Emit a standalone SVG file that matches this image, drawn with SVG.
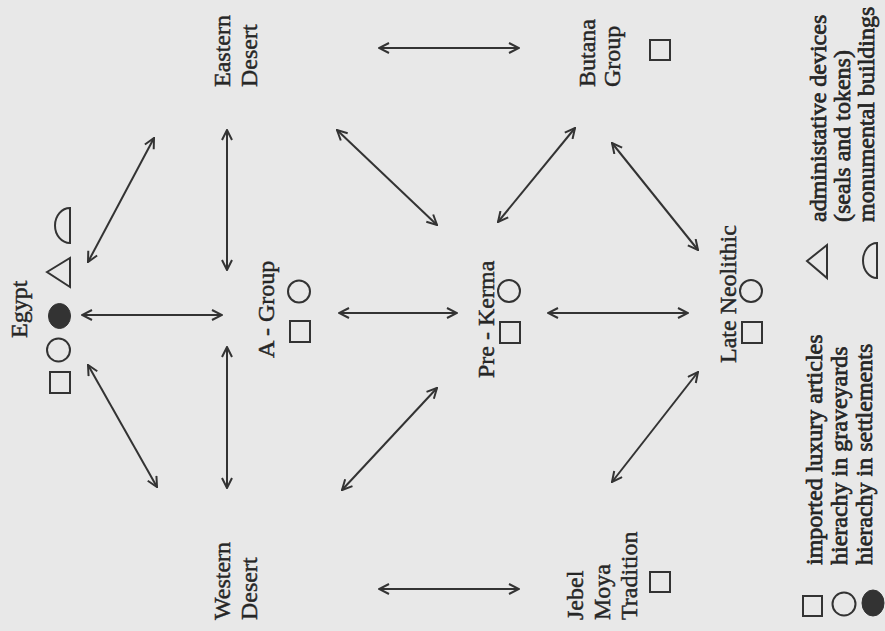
<svg xmlns="http://www.w3.org/2000/svg" width="885" height="631" viewBox="0 0 885 631">
<style>
text{font-family:"Liberation Serif","Times New Roman",serif;font-size:24px;fill:#262626;stroke:#262626;stroke-width:0.45}
.leg text,text.leg{stroke-width:0.7}
.sym{fill:none;stroke:#333;stroke-width:2}
.fill{fill:#333;stroke:#333;stroke-width:1}
.con{fill:none;stroke:#333;stroke-width:2;marker-start:url(#ah);marker-end:url(#ah)}
</style>
<defs>
<marker id="ah" viewBox="0 0 12 12" refX="11" refY="6" markerWidth="12" markerHeight="12" markerUnits="userSpaceOnUse" orient="auto-start-reverse">
<path d="M1,1 L11,6 L1,11" fill="none" stroke="#333" stroke-width="2"/>
</marker>
</defs>
<rect width="885" height="631" fill="#e8e8e8"/>

<g id="connectors">
<line class="con" x1="88" y1="262" x2="154" y2="138"/>
<line class="con" x1="227" y1="130" x2="227" y2="270"/>
<line class="con" x1="82" y1="315" x2="222" y2="315"/>
<line class="con" x1="88" y1="365" x2="157" y2="487"/>
<line class="con" x1="227" y1="347" x2="227" y2="488"/>
<line class="con" x1="379" y1="48" x2="519" y2="48"/>
<line class="con" x1="337" y1="130" x2="437" y2="225"/>
<line class="con" x1="575" y1="128" x2="498" y2="222"/>
<line class="con" x1="339" y1="313" x2="457" y2="313"/>
<line class="con" x1="548" y1="313" x2="688" y2="313"/>
<line class="con" x1="437" y1="388" x2="342" y2="490"/>
<line class="con" x1="379" y1="589" x2="519" y2="589"/>
<line class="con" x1="612" y1="143" x2="698" y2="250"/>
<line class="con" x1="698" y1="372" x2="612" y2="482"/>
</g>

<g id="egypt">
<text transform="translate(27,338) rotate(-90)">Egypt</text>
<rect class="sym" x="50" y="372" width="20" height="21"/>
<circle class="sym" cx="58.5" cy="350" r="11.5"/>
<ellipse class="fill" cx="59.5" cy="316" rx="11" ry="12.5"/>
<polygon class="sym" points="47,272 70,258 70,287"/>
<path class="sym" d="M70,208 A15 17.5 0 0 0 70,243 Z"/>
</g>

<g id="eastern-desert">
<text transform="translate(230,87) rotate(-90)"><tspan x="0" y="0">Eastern</tspan><tspan x="0" y="27">Desert</tspan></text>
</g>

<g id="western-desert">
<text transform="translate(230,620) rotate(-90)"><tspan x="0" y="0">Western</tspan><tspan x="0" y="27">Desert</tspan></text>
</g>

<g id="a-group">
<text transform="translate(274,358) rotate(-90)">A - Group</text>
<circle class="sym" cx="299" cy="291.5" r="11"/>
<rect class="sym" x="290" y="321" width="20" height="21"/>
</g>

<g id="butana-group">
<text transform="translate(595,87) rotate(-90)"><tspan x="0" y="0">Butana</tspan><tspan x="0" y="25">Group</tspan></text>
<rect class="sym" x="650" y="40" width="20" height="20"/>
</g>

<g id="pre-kerma">
<text transform="translate(494,378) rotate(-90)">Pre - Kerma</text>
<circle class="sym" cx="509" cy="291" r="11"/>
<rect class="sym" x="500" y="322" width="20" height="21"/>
</g>

<g id="jebel-moya">
<text transform="translate(583,620) rotate(-90)"><tspan x="0" y="0">Jebel</tspan><tspan x="0" y="27">Moya</tspan><tspan x="0" y="54">Tradition</tspan></text>
<rect class="sym" x="650" y="572" width="20" height="20"/>
</g>

<g id="late-neolithic">
<text transform="translate(736,363) rotate(-90)">Late Neolithic</text>
<circle class="sym" cx="751" cy="291" r="11"/>
<rect class="sym" x="742" y="322" width="20" height="21"/>
</g>

<g id="legend-top" class="leg">
<polygon class="sym" points="807,261 827,245 827,278"/>
<path class="sym" d="M877,243 A14 17.5 0 0 0 877,278 Z"/>
<text transform="translate(826,222) rotate(-90)"><tspan x="0" y="0">administative devices</tspan><tspan x="0" y="24">(seals and tokens)</tspan><tspan x="0" y="48">monumental buildings</tspan></text>
</g>

<g id="legend-bottom" class="leg">
<rect class="sym" x="803" y="596" width="19" height="20"/>
<circle class="sym" cx="844" cy="604" r="11.5"/>
<ellipse class="fill" cx="873" cy="603" rx="11" ry="13"/>
<text transform="translate(822,565) rotate(-90)"><tspan x="0" y="0">imported luxury articles</tspan><tspan x="0" y="25">hierachy in graveyards</tspan><tspan x="0" y="50">hierachy in settlements</tspan></text>
</g>
</svg>
